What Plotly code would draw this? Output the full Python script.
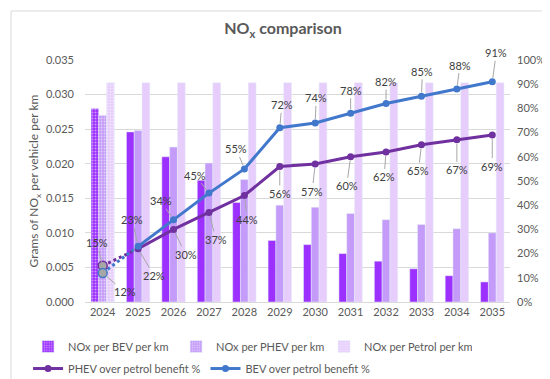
import plotly.graph_objects as go

years = ["2024", "2025", "2026", "2027", "2028", "2029", "2030", "2031", "2032", "2033", "2034", "2035"]
bev_nox = [0.0280, 0.0246, 0.0210, 0.0176, 0.0144, 0.0089, 0.0083, 0.0070, 0.0059, 0.0048, 0.0038, 0.0029]
phev_nox = [0.0270, 0.0248, 0.0224, 0.0201, 0.0177, 0.0140, 0.0137, 0.0128, 0.0119, 0.0112, 0.0106, 0.0100]
petrol_nox = [0.0317] * 12
phev_benefit = [0.15, 0.22, 0.30, 0.37, 0.44, 0.56, 0.57, 0.60, 0.62, 0.65, 0.67, 0.69]
bev_benefit = [0.12, 0.23, 0.34, 0.45, 0.55, 0.72, 0.74, 0.78, 0.82, 0.85, 0.88, 0.91]

# label offsets (pixels) for callouts
bev_off = [(22, 19), (-6, -27), (-13, -19), (-14, -18), (-8, -20), (2, -23), (1, -25), (0, -23), (0, -22), (1, -25), (3, -24), (4, -29)]
phev_off = [(-6, -23), (16, 27), (12, 25), (7, 27), (3, 24), (0, 27), (-3, 27), (-4, 29), (-2, 25), (-3, 26), (0, 30), (0, 31)]

C_BEV = "#9b30ff"
C_PHEV = "#c49bf8"
C_PET = "#e6cdfc"
C_LPHEV = "#7030a0"
C_LBEV = "#4178cc"
FONT = "Lato"
GREY = "#595959"

pat = dict(shape=["."] + [""] * 11, fgcolor="white", size=3, solidity=0.35)

fig = go.Figure()
fig.add_bar(x=years, y=bev_nox, name="NOx per BEV per km", marker=dict(color=C_BEV, pattern=pat))
fig.add_bar(x=years, y=phev_nox, name="NOx per PHEV per km", marker=dict(color=C_PHEV, pattern=pat))
fig.add_bar(x=years, y=petrol_nox, name="NOx per Petrol per km", marker=dict(color=C_PET, pattern=pat))

fig.add_scatter(x=years[:2], y=phev_benefit[:2], yaxis="y2", mode="lines", showlegend=False,
                line=dict(color=C_LPHEV, width=3, dash="dot"), hoverinfo="skip")
fig.add_scatter(x=years[:2], y=bev_benefit[:2], yaxis="y2", mode="lines", showlegend=False,
                line=dict(color=C_LBEV, width=3, dash="dot"), hoverinfo="skip")
fig.add_scatter(x=years[1:], y=phev_benefit[1:], yaxis="y2", mode="lines+markers",
                name="PHEV over petrol benefit %", line=dict(color=C_LPHEV, width=3),
                marker=dict(size=7, color=C_LPHEV), legend="legend2")
fig.add_scatter(x=years[1:], y=bev_benefit[1:], yaxis="y2", mode="lines+markers",
                name="BEV over petrol benefit %", line=dict(color=C_LBEV, width=3),
                marker=dict(size=7, color=C_LBEV), legend="legend2")
fig.add_scatter(x=years[:1], y=phev_benefit[:1], yaxis="y2", mode="markers", showlegend=False,
                marker=dict(size=9, color="#a6a6a6", line=dict(color=C_LPHEV, width=1.5)))
fig.add_scatter(x=years[:1], y=bev_benefit[:1], yaxis="y2", mode="markers", showlegend=False,
                marker=dict(size=9, color="#a6a6a6", line=dict(color=C_LBEV, width=1.5)))

ann = []
for vals, offs in ((bev_benefit, bev_off), (phev_benefit, phev_off)):
    for i, (v, (dx, dy)) in enumerate(zip(vals, offs)):
        ann.append(dict(x=i, y=v, xref="x", yref="y2", text=f"{round(v*100)}%",
                        showarrow=True, ax=dx, ay=dy, arrowhead=0, arrowwidth=1,
                        arrowcolor="#a6a6a6", standoff=4,
                        font=dict(family=FONT, size=11, color="#404040")))

fig.update_layout(
    width=550, height=379,
    paper_bgcolor="white", plot_bgcolor="white",
    margin=dict(l=77, r=48, t=52, b=85, autoexpand=False),
    barmode="group", bargap=0.34, bargroupgap=0,
    font=dict(family=FONT, size=11, color=GREY),
    title=dict(text="<b>NO<sub>x</sub> comparison</b>", x=0.5, xanchor="center", y=0.945, yanchor="middle",
               font=dict(family=FONT, size=16, color=GREY)),
    xaxis=dict(type="category", range=[-0.5, 11.5], showgrid=False, showline=True, linecolor="#d9d9d9",
               ticks="", tickfont=dict(size=11, color=GREY)),
    yaxis=dict(range=[0, 0.035], dtick=0.005, tickformat=".3f", showgrid=True, gridcolor="#d9d9d9",
               zeroline=False, ticks="", ticklabelstandoff=10, tickfont=dict(size=11, color=GREY),
               title=dict(text="Grams of NO<sub>x</sub> per vehicle per km", font=dict(size=12, color=GREY), standoff=4)),
    yaxis2=dict(range=[0, 1.0], dtick=0.1, tickformat=".0%", overlaying="y", side="right",
                showgrid=False, zeroline=False, ticks="", ticklabelstandoff=6,
                tickfont=dict(size=11, color=GREY)),
    legend=dict(orientation="h", x=-0.134, xanchor="left", y=-0.124, yanchor="top",
                entrywidth=103, itemwidth=30, tracegroupgap=0,
                font=dict(size=11, color=GREY), traceorder="normal"),
    legend2=dict(orientation="h", x=-0.134, xanchor="left", y=-0.215, yanchor="top",
                 itemwidth=30, tracegroupgap=0,
                 font=dict(size=11, color=GREY), traceorder="normal"),
    annotations=ann,
    shapes=[dict(type="rect", xref="paper", yref="paper", x0=-0.174, x1=1.101, y0=-0.335, y1=1.2025,
                 line=dict(color="#d9d9d9", width=1))],
)

fig.write_html("out.html")
